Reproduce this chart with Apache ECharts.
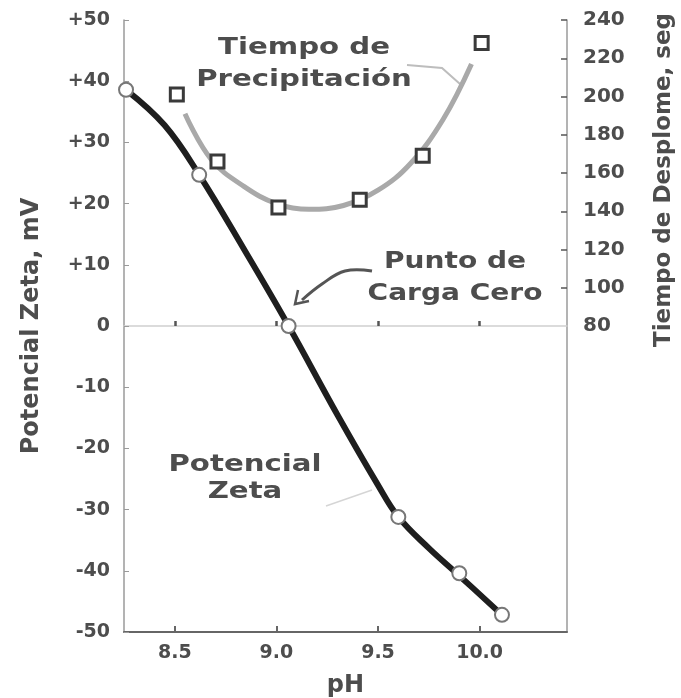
<!DOCTYPE html>
<html>
<head>
<meta charset="utf-8">
<script src="https://cdn.jsdelivr.net/npm/echarts@6/dist/echarts.min.js"></script>
<style>
  html, body { margin: 0; padding: 0; background: #fff; }
  #main { width: 681px; height: 698px; }
</style>
</head>
<body>
<div id="main"></div>
<script>
// Potencial zeta (circulos)
var phZeta = [8.26, 8.62, 9.06, 9.60, 9.90, 10.11];
var zeta = [38.6, 24.7, 0, -31.2, -40.4, -47.2];

// curva del potencial zeta
var phZetaCurve = [8.26, 8.45, 8.62, 8.85, 9.06, 9.3, 9.5, 9.6, 9.75, 9.9, 10.11];
var zetaCurve = [38.6, 32.8, 24.7, 12.0, 0, -14.5, -26.0, -31.2, -36.3, -40.8, -47.2];

// Tiempo de precipitacion (cuadros)
var phTime = [8.51, 8.71, 9.01, 9.41, 9.72, 10.01];
var tiempo = [201, 166, 142, 146, 169, 228];

// curva ajustada del tiempo
var phCurve = [8.55, 8.68, 8.84, 9.0, 9.16, 9.33, 9.5, 9.66, 9.82, 9.96];
var timeCurve = [191, 167, 153, 144, 141, 143, 151, 165, 188, 217];

var xTicks = [8.5, 9.0, 9.5, 10.0];
var rightTicks = [80, 100, 120, 140, 160, 180, 200, 220, 240];

var FONT = 'DejaVu Sans';
var GREY = '#4d4d4d';

function pairs(xs, ys) {
    return xs.map(function (x, i) { return [x, ys[i]]; });
}

var myChart = echarts.init(document.getElementById('main'));
myChart.setOption({
    animation: false,
    grid: {  // margenes
        left: 124,
        right: 114,
        top: 20,
        bottom: 66,
        containLabel: false,
        outerBoundsMode: 'none'
    },
    xAxis: [{
        type: 'value',
        min: 8.25,
        max: 10.43,
        name: 'pH',
        nameLocation: 'middle',
        nameGap: 42,
        nameTextStyle: { fontFamily: FONT, fontWeight: 'bold', fontSize: 24, color: GREY },
        axisLine: { onZero: false, lineStyle: { color: '#666', width: 2 } },
        axisTick: { inside: true, length: 6, customValues: xTicks, lineStyle: { color: '#666', width: 2 } },
        axisLabel: {
            customValues: xTicks,
            margin: 12,
            fontFamily: FONT, fontWeight: 'bold', fontSize: 19, color: GREY,
            formatter: function (v) { return v.toFixed(1); }
        },
        splitLine: { show: false }
    }, {
        // linea del cero
        type: 'value',
        min: 8.25,
        max: 10.43,
        axisLine: { onZero: true, onZeroAxisIndex: 0, lineStyle: { color: '#cfcfcf', width: 1.5 } },
        axisTick: { inside: false, length: 5, customValues: xTicks, lineStyle: { color: '#555', width: 2.5 } },
        axisLabel: { show: false },
        splitLine: { show: false }
    }],
    yAxis: [{
        type: 'value',
        min: -50,
        max: 50,
        interval: 10,
        name: 'Potencial Zeta, mV',
        nameLocation: 'middle',
        nameRotate: 90,
        nameGap: 80,
        nameTextStyle: { fontFamily: FONT, fontWeight: 'bold', fontSize: 24, color: GREY },
        axisLine: { show: true, lineStyle: { color: '#9a9a9a', width: 1.5 } },
        axisTick: { inside: true, length: 5, lineStyle: { color: '#9a9a9a' } },
        axisLabel: {
            margin: 14,
            fontFamily: FONT, fontWeight: 'bold', fontSize: 19, color: GREY,
            formatter: function (v) { return v > 0 ? '+' + v : String(v); }
        },
        splitLine: { show: false }
    }, {
        type: 'value',
        position: 'right',
        min: -80,
        max: 240,
        interval: 20,
        axisLine: { show: true, lineStyle: { color: '#9a9a9a', width: 1.5 } },
        axisTick: { inside: true, length: 6, customValues: rightTicks.slice(1), lineStyle: { color: '#555', width: 1.5 } },
        axisLabel: {
            customValues: rightTicks,
            margin: 16,
            fontFamily: FONT, fontWeight: 'bold', fontSize: 20, color: GREY
        },
        splitLine: { show: false }
    }],
    series: [{
        name: 'Tiempo curva',
        type: 'line',
        yAxisIndex: 1,
        smooth: 0.4,
        showSymbol: false,
        data: pairs(phCurve, timeCurve),
        lineStyle: { color: '#a9a9a9', width: 5 },
        z: 2
    }, {
        name: 'Tiempo',
        type: 'scatter',
        yAxisIndex: 1,
        symbol: 'rect',
        symbolSize: 13,
        data: pairs(phTime, tiempo),
        itemStyle: { color: '#fff', borderColor: '#3a3a3a', borderWidth: 3, opacity: 1 },
        z: 4
    }, {
        name: 'Potencial Zeta curva',
        type: 'line',
        smooth: 0.4,
        clip: false,
        showSymbol: false,
        data: pairs(phZetaCurve, zetaCurve),
        lineStyle: { color: '#1e1e1e', width: 6 },
        z: 3
    }, {
        name: 'Potencial Zeta',
        type: 'scatter',
        clip: false,
        symbol: 'circle',
        symbolSize: 14,
        data: pairs(phZeta, zeta),
        itemStyle: { color: '#fff', borderColor: '#777', borderWidth: 2, opacity: 1 },
        z: 5
    }],
    graphic: [
        // nombre del eje derecho
        {
            type: 'text', x: 664, y: 180, rotation: Math.PI / 2,
            style: { text: 'Tiempo de Desplome, seg', fontFamily: FONT, fontWeight: 'bold', fontSize: 23, fill: GREY, textAlign: 'center', textVerticalAlign: 'middle' }
        },
        {
            type: 'text', x: 304, y: 48, scaleX: 1.27,
            style: { text: 'Tiempo de', fontFamily: FONT, fontWeight: 'bold', fontSize: 23, fill: GREY, textAlign: 'center', textVerticalAlign: 'middle' }
        },
        {
            type: 'text', x: 304, y: 80, scaleX: 1.27,
            style: { text: 'Precipitación', fontFamily: FONT, fontWeight: 'bold', fontSize: 23, fill: GREY, textAlign: 'center', textVerticalAlign: 'middle' }
        },
        {
            type: 'polyline', shape: { points: [[407, 65], [442, 68], [460, 84]] },
            style: { stroke: '#bdbdbd', lineWidth: 2, fill: null }
        },
        {
            type: 'text', x: 455, y: 262, scaleX: 1.22,
            style: { text: 'Punto de', fontFamily: FONT, fontWeight: 'bold', fontSize: 23, fill: GREY, textAlign: 'center', textVerticalAlign: 'middle' }
        },
        {
            type: 'text', x: 455, y: 294, scaleX: 1.22,
            style: { text: 'Carga Cero', fontFamily: FONT, fontWeight: 'bold', fontSize: 23, fill: GREY, textAlign: 'center', textVerticalAlign: 'middle' }
        },
        {
            type: 'polyline', shape: { points: [[372, 271], [345, 271], [322, 284], [302, 300]], smooth: 0.4 },
            style: { stroke: '#555', lineWidth: 3, fill: null }
        },
        {
            type: 'polyline', shape: { points: [[298, 290], [295, 304], [309, 301]] },
            style: { stroke: '#555', lineWidth: 2.5, fill: null }
        },
        {
            type: 'text', x: 245, y: 465, scaleX: 1.27,
            style: { text: 'Potencial', fontFamily: FONT, fontWeight: 'bold', fontSize: 23, fill: GREY, textAlign: 'center', textVerticalAlign: 'middle' }
        },
        {
            type: 'text', x: 245, y: 492, scaleX: 1.27,
            style: { text: 'Zeta', fontFamily: FONT, fontWeight: 'bold', fontSize: 23, fill: GREY, textAlign: 'center', textVerticalAlign: 'middle' }
        },
        {
            type: 'line', shape: { x1: 326, y1: 506, x2: 372, y2: 490 },
            style: { stroke: '#d5d5d5', lineWidth: 1.5 }
        }
    ]
});
</script>
</body>
</html>
